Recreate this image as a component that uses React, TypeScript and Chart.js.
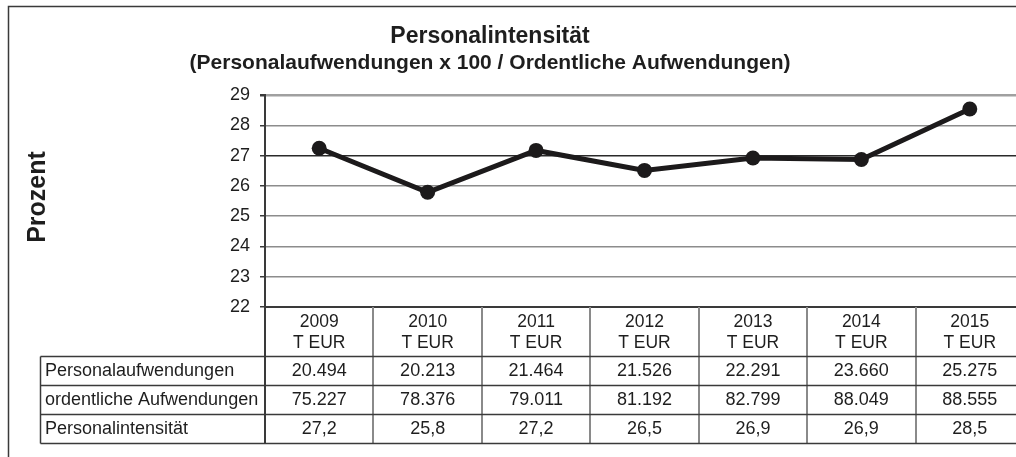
import React, { useEffect, useRef } from 'react';
import { Chart, registerables } from 'chart.js';

Chart.register(...registerables);

// ---- data ----
const years = ['2009', '2010', '2011', '2012', '2013', '2014', '2015'];
const unitLabel = 'T EUR';
const personalaufwendungen = [20494, 20213, 21464, 21526, 22291, 23660, 25275];
const ordentlicheAufwendungen = [75227, 78376, 79011, 81192, 82799, 88049, 88555];
const personalintensitaet = [27.24, 25.79, 27.17, 26.51, 26.92, 26.87, 28.54];
const rowLabels = ['Personalaufwendungen', 'ordentliche Aufwendungen', 'Personalintensität'];
const yMin = 22;
const yMax = 29;
const yStep = 1;
const titleText = 'Personalintensität';
const subtitleText = '(Personalaufwendungen x 100 / Ordentliche Aufwendungen)';
const yAxisTitle = 'Prozent';

const FONT = '"Liberation Sans", Arial, Helvetica, sans-serif';
const TEXT = '#1e1e1e';

const fmtThousands = (v: number) => String(v).replace(/\B(?=(\d{3})+(?!\d))/g, '.');
const fmtPct = (v: number) => v.toFixed(1).replace('.', ',');

const decorPlugin = {
  id: 'decor',
  beforeDraw(chart: any) {
    const ctx = chart.ctx;
    ctx.save();
    ctx.fillStyle = '#ffffff';
    ctx.fillRect(0, 0, chart.width, chart.height);
    // outer frame
    ctx.strokeStyle = '#3a3a3a';
    ctx.lineWidth = 1.5;
    ctx.beginPath();
    ctx.moveTo(8.5, chart.height);
    ctx.lineTo(8.5, 6.5);
    ctx.lineTo(chart.width, 6.5);
    ctx.stroke();
    // titles
    ctx.fillStyle = TEXT;
    ctx.textAlign = 'center';
    ctx.textBaseline = 'middle';
    ctx.font = `bold 23px ${FONT}`;
    ctx.fillText(titleText, 490, 37);
    ctx.font = `bold 21px ${FONT}`;
    ctx.fillText(subtitleText, 490, 63);
    // y axis title
    const area = chart.chartArea;
    ctx.translate(38, (area.top + area.bottom) / 2 - 4);
    ctx.rotate(-Math.PI / 2);
    ctx.font = `bold 25px ${FONT}`;
    ctx.fillText(yAxisTitle, 0, 0);
    ctx.restore();
  },
  afterDraw(chart: any) {
    const ctx = chart.ctx;
    const x = chart.scales.x;
    const area = chart.chartArea;
    const colW = x.getPixelForValue(1) - x.getPixelForValue(0);
    const bounds: number[] = [];
    for (let i = 0; i <= years.length; i++) bounds.push(x.getPixelForValue(0) - colW / 2 + i * colW);
    const headerBottom = area.bottom + 49.5;
    const rowH = 29;
    const tableLeft = 40.5;
    const rows = [
      personalaufwendungen.map(fmtThousands),
      ordentlicheAufwendungen.map(fmtThousands),
      personalintensitaet.map(fmtPct),
    ];
    const tableBottom = headerBottom + rows.length * rowH;
    ctx.save();
    // column separators
    ctx.strokeStyle = '#8a8a8a';
    ctx.lineWidth = 2;
    for (let i = 1; i < bounds.length; i++) {
      const bx = Math.round(bounds[i]);
      ctx.beginPath();
      ctx.moveTo(bx, area.bottom);
      ctx.lineTo(bx, tableBottom);
      ctx.stroke();
    }
    ctx.strokeStyle = '#3a3a3a';
    ctx.lineWidth = 2;
    ctx.beginPath();
    ctx.moveTo(Math.round(bounds[0]), area.bottom);
    ctx.lineTo(Math.round(bounds[0]), tableBottom);
    ctx.stroke();
    // left border of label column
    ctx.lineWidth = 1.5;
    ctx.beginPath();
    ctx.moveTo(tableLeft, headerBottom);
    ctx.lineTo(tableLeft, tableBottom);
    ctx.stroke();
    // horizontal rules
    for (let r = 0; r <= rows.length; r++) {
      const y = headerBottom + r * rowH;
      ctx.beginPath();
      ctx.moveTo(tableLeft, y);
      ctx.lineTo(bounds[bounds.length - 1], y);
      ctx.stroke();
    }
    // texts
    ctx.fillStyle = TEXT;
    ctx.font = `18px ${FONT}`;
    ctx.textBaseline = 'middle';
    rows.forEach((vals, r) => {
      const cy = headerBottom + r * rowH + rowH / 2;
      ctx.textAlign = 'left';
      ctx.fillText(rowLabels[r], 45, cy);
      ctx.textAlign = 'center';
      vals.forEach((v, i) => ctx.fillText(v, x.getPixelForValue(i), cy));
    });
    ctx.restore();
  },
};

export default function App() {
  const ref = useRef<HTMLCanvasElement>(null);
  useEffect(() => {
    if (!ref.current) return;
    const chart = new Chart(ref.current, {
      type: 'line',
      data: {
        labels: years.map((y) => [y, unitLabel]),
        datasets: [
          {
            label: 'Personalintensität',
            data: personalintensitaet,
            borderColor: '#1c1a1b',
            backgroundColor: '#1c1a1b',
            borderWidth: 5,
            pointRadius: 7.5,
            pointBorderWidth: 0,
            pointBackgroundColor: '#1c1a1b',
            tension: 0,
          },
        ],
      },
      options: {
        animation: false,
        responsive: true,
        maintainAspectRatio: false,
        layout: { padding: { left: 190, right: 36, top: 95, bottom: 114 } },
        plugins: {
          legend: { display: false },
          title: { display: false },
          tooltip: { enabled: false },
        },
        scales: {
          x: {
            type: 'category',
            offset: true,
            grid: { display: false, drawTicks: false },
            border: { display: true, color: '#3a3a3a', width: 2 },
            ticks: {
              font: { family: FONT, size: 17.5 },
              color: TEXT,
              padding: 5,
              maxRotation: 0,
              autoSkip: false,
            },
            afterFit: (s: any) => {
              s.height = 49;
            },
          },
          y: {
            min: yMin,
            max: yMax,
            ticks: {
              stepSize: yStep,
              font: { family: FONT, size: 18 },
              color: TEXT,
              padding: 10,
            },
            grid: {
              color: (c: any) => (c.tick && c.tick.value === 27 ? '#2a2a2a' : c.tick && c.tick.value === 29 ? '#a0a0a0' : '#8c8c8c'),
              lineWidth: (c: any) => (c.tick && c.tick.value === 29 ? 2.5 : 1.5),
              tickLength: 5,
              tickColor: '#3a3a3a',
            },
            border: { color: '#3a3a3a', width: 2 },
            afterFit: (s: any) => {
              s.width = 75;
            },
          },
        },
      },
      plugins: [decorPlugin],
    });
    return () => chart.destroy();
  }, []);

  return (
    <div style={{ position: 'absolute', left: 0, top: 0, width: 1016, height: 457, overflow: 'hidden', background: '#fff' }}>
      <div style={{ position: 'absolute', left: 0, top: 0, width: 1060, height: 470 }}>
        <canvas ref={ref} />
      </div>
    </div>
  );
}
